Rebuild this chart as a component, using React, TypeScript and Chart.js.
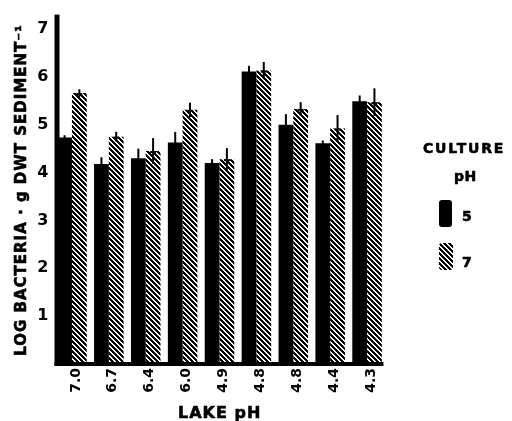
import React, { useEffect, useRef } from 'react';
import { Chart, registerables } from 'chart.js';

Chart.register(...registerables);

const lakePH = ['7.0', '6.7', '6.4', '6.0', '4.9', '4.8', '4.8', '4.4', '4.3'];
const culture5 = [4.73, 4.18, 4.30, 4.63, 4.20, 6.11, 5.00, 4.61, 5.49];
const culture7 = [5.66, 4.75, 4.45, 5.31, 4.28, 6.13, 5.33, 4.92, 5.47];
const err5 = [0.05, 0.14, 0.20, 0.22, 0.08, 0.12, 0.22, 0.06, 0.12];
const err7 = [0.08, 0.10, 0.27, 0.15, 0.23, 0.18, 0.14, 0.28, 0.29];
const yTicks = [1, 2, 3, 4, 5, 6, 7];
const seriesLabels = ['5', '7'];
const yTitle = 'LOG BACTERIA · g DWT SEDIMENT⁻¹';
const xTitle = 'LAKE pH';
const legendTitle = ['CULTURE', 'pH'];

const FONT = '"DejaVu Sans", sans-serif';

function makeHatch(ctx: CanvasRenderingContext2D): CanvasPattern {
  const s = 5;
  const c = document.createElement('canvas');
  c.width = s;
  c.height = s;
  const g = c.getContext('2d')!;
  g.fillStyle = '#fff';
  g.fillRect(0, 0, s, s);
  g.fillStyle = '#000';
  for (let y = 0; y < s; y++) {
    for (let x = 0; x < s; x++) {
      const d = (((x - y) % s) + s) % s;
      if (d < 3) g.fillRect(x, y, 1, 1);
    }
  }
  return ctx.createPattern(c, 'repeat')!;
}

function boldText(ctx: CanvasRenderingContext2D, t: string, x: number, y: number) {
  ctx.fillText(t, x, y);
  ctx.strokeText(t, x, y);
}

export default function App() {
  const ref = useRef<HTMLCanvasElement | null>(null);

  useEffect(() => {
    const canvas = ref.current!;
    const ctx0 = canvas.getContext('2d')!;
    const hatch = makeHatch(ctx0);

    const errPlugin = {
      id: 'errbars',
      afterDatasetsDraw(chart: any) {
        const ctx = chart.ctx;
        const ys = chart.scales.y;
        [culture5, culture7].forEach((vals, di) => {
          const errs = di === 0 ? err5 : err7;
          const meta = chart.getDatasetMeta(di);
          meta.data.forEach((bar: any, i: number) => {
            const x = bar.x;
            ctx.save();
            ctx.strokeStyle = '#000';
            ctx.lineWidth = 2;
            ctx.beginPath();
            ctx.moveTo(x, ys.getPixelForValue(vals[i] - errs[i]));
            ctx.lineTo(x, ys.getPixelForValue(vals[i] + errs[i]));
            ctx.stroke();
            if (di === 1) {
              ctx.beginPath();
              ctx.moveTo(x - 3, ys.getPixelForValue(vals[i]) + 1);
              ctx.lineTo(x + 3, ys.getPixelForValue(vals[i]) + 1);
              ctx.stroke();
            }
            ctx.restore();
          });
        });
      },
    };

    const decoPlugin = {
      id: 'deco',
      afterDraw(chart: any) {
        const ctx = chart.ctx as CanvasRenderingContext2D;
        const ca = chart.chartArea;
        const ys = chart.scales.y;
        const y0 = ys.getPixelForValue(0);
        ctx.save();
        ctx.fillStyle = '#000';
        ctx.strokeStyle = '#000';
        ctx.lineWidth = 0.6;
        ctx.lineJoin = 'round';
        // axes
        ctx.fillRect(ca.left + 1, ca.top, 5, y0 - ca.top + 2);
        ctx.fillRect(ca.left + 1, y0 - 2, ca.right - ca.left - 3, 4);
        // y title
        (ctx as any).letterSpacing = '1px';
        ctx.font = `bold 15px ${FONT}`;
        ctx.textBaseline = 'alphabetic';
        ctx.textAlign = 'center';
        ctx.save();
        ctx.translate(26, 190);
        ctx.rotate(-Math.PI / 2);
        boldText(ctx, yTitle, 0, 0);
        ctx.restore();
        // x title
        ctx.font = `bold 16px ${FONT}`;
        (ctx as any).letterSpacing = '1px';
        ctx.textAlign = 'left';
        boldText(ctx, xTitle, 178, 418);
        // legend
        ctx.font = `bold 14px ${FONT}`;
        (ctx as any).letterSpacing = '1.8px';
        boldText(ctx, legendTitle[0], 423, 153);
        (ctx as any).letterSpacing = '0.5px';
        boldText(ctx, legendTitle[1], 454, 181);
        (ctx as any).letterSpacing = '0px';
        ctx.beginPath();
        (ctx as any).roundRect(439, 200, 13, 27, 3);
        ctx.fillStyle = '#000';
        ctx.fill();
        ctx.beginPath();
        (ctx as any).roundRect(439, 243, 14, 27, 3);
        ctx.fillStyle = hatch;
        ctx.fill();
        ctx.fillStyle = '#000';
        ctx.font = `bold 14px ${FONT}`;
        boldText(ctx, seriesLabels[0], 462, 221);
        boldText(ctx, seriesLabels[1], 462, 267);
        ctx.restore();
      },
    };

    const chart = new Chart(canvas, {
      type: 'bar',
      data: {
        labels: lakePH,
        datasets: [
          { label: seriesLabels[0], data: culture5, backgroundColor: '#000', borderWidth: 0 },
          { label: seriesLabels[1], data: culture7, backgroundColor: hatch as any, borderWidth: 0 },
        ],
      },
      options: {
        responsive: false,
        animation: false,
        events: [],
        layout: { padding: { left: 0, right: 126.5, top: 8, bottom: 0 } },
        datasets: { bar: { categoryPercentage: 0.8, barPercentage: 1.0 } },
        plugins: { legend: { display: false }, tooltip: { enabled: false } },
        scales: {
          x: {
            grid: { display: false, drawTicks: false },
            border: { display: false },
            ticks: {
              color: '#000',
              font: { family: FONT, weight: 'bold', size: 14 },
              minRotation: 90,
              maxRotation: 90,
              autoSkip: false,
              padding: 4,
              labelOffset: 4,
            },
            afterFit: (s: any) => { s.height = 57; },
          },
          y: {
            min: 0,
            max: 7.3,
            grid: { display: false, drawTicks: false },
            border: { display: false },
            ticks: {
              color: '#000',
              font: { family: FONT, weight: 'bold', size: 16 },
              padding: 5,
            },
            afterBuildTicks: (s: any) => { s.ticks = yTicks.map((v) => ({ value: v })); },
            afterFit: (s: any) => { s.width = 53.5; },
          },
        },
      },
      plugins: [errPlugin, decoPlugin],
    });
    return () => chart.destroy();
  }, []);

  return (
    <div style={{ position: 'fixed', left: 0, top: 0, width: 512, height: 421, background: '#fff' }}>
      <canvas ref={ref} width={512} height={421} style={{ display: 'block' }} />
    </div>
  );
}
